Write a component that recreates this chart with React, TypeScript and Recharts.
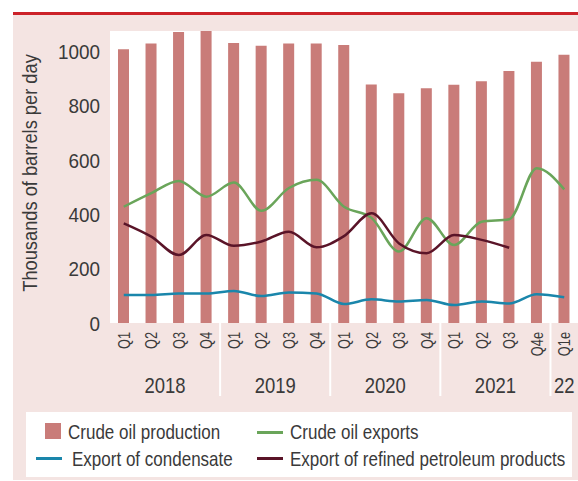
import { ComposedChart, Bar, Line, XAxis, YAxis, CartesianGrid } from 'recharts';

const quarters = ['Q1', 'Q2', 'Q3', 'Q4', 'Q1', 'Q2', 'Q3', 'Q4', 'Q1', 'Q2', 'Q3', 'Q4', 'Q1', 'Q2', 'Q3', 'Q4e', 'Q1e'];
const years = ['2018', '2018', '2018', '2018', '2019', '2019', '2019', '2019', '2020', '2020', '2020', '2020', '2021', '2021', '2021', '2021', '22'];
const production = [1008, 1029, 1071, 1075, 1031, 1021, 1029, 1029, 1023, 878, 846, 864, 877, 890, 928, 962, 988];
const crudeExports = [428, 478, 523, 465, 517, 413, 497, 527, 428, 387, 263, 386, 287, 373, 382, 570, 492];
const condensate = [103, 103, 109, 109, 118, 99, 112, 109, 70, 87, 79, 85, 66, 79, 72, 106, 95];
const refined = [367, 318, 250, 324, 284, 300, 336, 279, 320, 404, 293, 257, 324, 306, 277, null, null];
const yTicks = [0, 200, 400, 600, 800, 1000];

const data = quarters.map((q, i) => ({
    q,
    year: years[i],
    production: production[i],
    exports: crudeExports[i],
    condensate: condensate[i],
    refined: refined[i],
}));

// no condensed font installed, so squeeze Liberation Sans horizontally
const FONT = "'Liberation Sans', Arial, sans-serif";
const TEXT = '#3a3a3a';
const BAR = '#c97c79';
const GREEN = '#6aa55a';
const BLUE = '#1a86ab';
const MAROON = '#5a1428';
const PINK = '#f4e4e2';

function QuarterTick(props: any) {
    const { x, y, payload } = props;
    const i = payload.index;
    const bw = (payload.offset || 13.8) * 2;
    const first = i === 0 || years[i] !== years[i - 1];
    const len = years.filter((yr) => yr === years[i]).length;
    return (
        <g>
            <text
                transform={`translate(${x + 6},${y + 9}) rotate(-90) scale(0.8,1)`}
                textAnchor="end"
                fontSize={16}
                fontFamily={FONT}
                fill={TEXT}
            >
                {payload.value}
            </text>
            {first && i > 0 && (
                <line x1={x - bw / 2} x2={x - bw / 2} y1={y} y2={y + 73} stroke="#fff" strokeWidth={2} />
            )}
            {first && (
                <text
                    transform={`translate(${x + ((len - 1) * bw) / 2},${y + 70}) scale(0.84,1)`}
                    textAnchor="middle"
                    fontSize={22}
                    fontFamily={FONT}
                    fill={TEXT}
                >
                    {years[i]}
                </text>
            )}
        </g>
    );
}

function ValueTick(props: any) {
    const { x, y, payload } = props;
    return (
        <text transform={`translate(${x},${y + 7.5}) scale(0.9,1)`} textAnchor="end" fontSize={21} fontFamily={FONT} fill={TEXT}>
            {payload.value}
        </text>
    );
}

function YLabel(props: any) {
    const { viewBox } = props;
    const cx = viewBox.x + 30;
    const cy = viewBox.y + viewBox.height / 2 - 4;
    return (
        <text transform={`translate(${cx},${cy}) rotate(-90) scale(0.87,1)`} textAnchor="middle" dominantBaseline="central" fontSize={21} fontFamily={FONT} fill={TEXT}>
            Thousands of barrels per day
        </text>
    );
}

const legendText = {
    position: 'absolute' as const,
    fontSize: 21,
    color: TEXT,
    lineHeight: '21px',
    whiteSpace: 'nowrap' as const,
    transform: 'scaleX(0.81)',
    transformOrigin: 'left center',
};

export default function App() {
    return (
        <div style={{ position: 'absolute', left: 0, top: 0, width: 578, height: 481, background: '#fff', fontFamily: FONT, overflow: 'hidden' }}>
            <div style={{ position: 'absolute', left: 13, top: 15, width: 565, height: 465, background: PINK }} />
            <div style={{ position: 'absolute', left: 13, top: 12, width: 565, height: 3, background: '#cc2229' }} />
            <div style={{ position: 'absolute', left: 0, top: 0 }}>
                <ComposedChart width={578} height={400} data={data} margin={{ top: 31, right: 0, bottom: 2, left: 0 }} barCategoryGap="0%">
                    <CartesianGrid horizontal={false} vertical={false} fill="#fff" />
                    <XAxis dataKey="q" interval={0} axisLine={false} tickLine={false} tickSize={0} tickMargin={0} height={75} tick={<QuarterTick />} />
                    <YAxis
                        domain={[0, 1075]}
                        ticks={yTicks}
                        width={110}
                        axisLine={false}
                        tickLine={false}
                        tickSize={0}
                        tickMargin={10}
                        tick={<ValueTick />}
                        label={<YLabel />}
                    />
                    <Bar dataKey="production" fill={BAR} barSize={11} isAnimationActive={false} />
                    <Line type="monotone" dataKey="exports" stroke={GREEN} strokeWidth={2.5} dot={false} isAnimationActive={false} />
                    <Line type="monotone" dataKey="condensate" stroke={BLUE} strokeWidth={2.5} dot={false} isAnimationActive={false} />
                    <Line type="monotone" dataKey="refined" stroke={MAROON} strokeWidth={2.5} dot={false} isAnimationActive={false} />
                </ComposedChart>
            </div>
            <div style={{ position: 'absolute', left: 26, top: 412, width: 546, height: 65, background: '#fff' }}>
                <div style={{ position: 'absolute', left: 19, top: 11, width: 16, height: 16, background: BAR }} />
                <div style={{ ...legendText, left: 42, top: 9 }}>Crude oil production</div>
                <div style={{ position: 'absolute', left: 231, top: 19, width: 26, height: 3, background: GREEN }} />
                <div style={{ ...legendText, left: 264, top: 9 }}>Crude oil exports</div>
                <div style={{ position: 'absolute', left: 10, top: 45, width: 26, height: 3, background: BLUE }} />
                <div style={{ ...legendText, left: 46, top: 36 }}>Export of condensate</div>
                <div style={{ position: 'absolute', left: 231, top: 45, width: 26, height: 3, background: MAROON }} />
                <div style={{ ...legendText, left: 264, top: 36 }}>Export of refined petroleum products</div>
            </div>
        </div>
    );
}
